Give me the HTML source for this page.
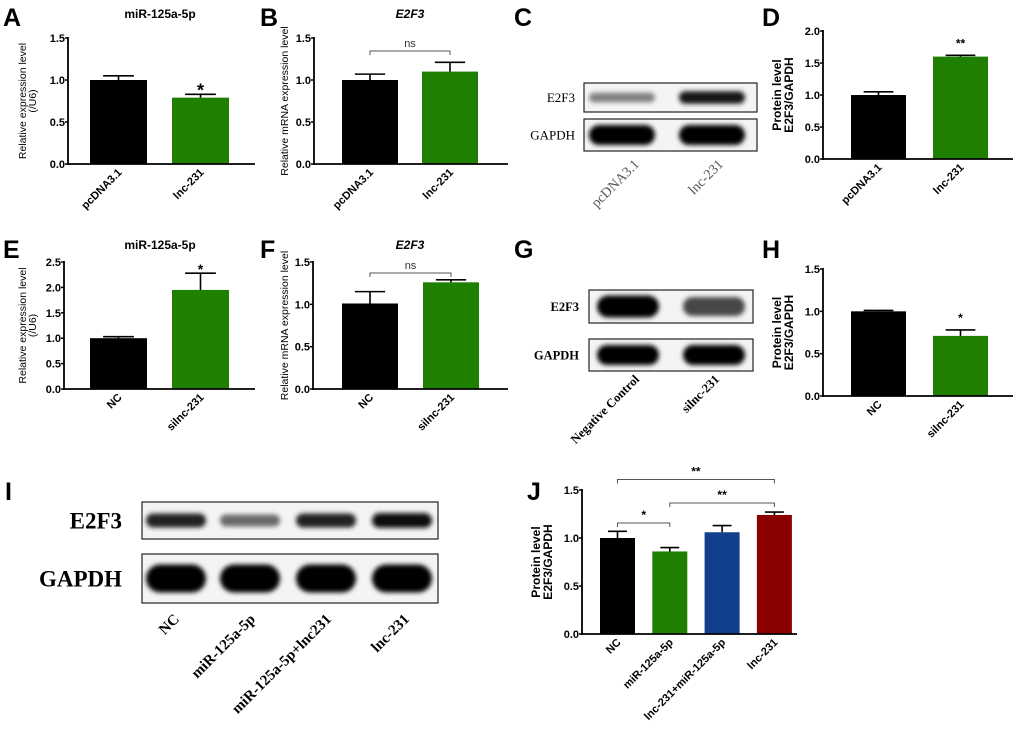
<!DOCTYPE html>
<html><head><meta charset="utf-8"><style>
html,body{margin:0;padding:0;background:#fff;}
svg{display:block;font-family:"Liberation Sans",Arial,sans-serif;}
.ser{font-family:"Liberation Serif","Times New Roman",serif;}
</style></head><body>
<svg id="fig" width="1020" height="731" viewBox="0 0 1020 731" xmlns="http://www.w3.org/2000/svg">
<defs>
<filter id="blur2" x="-30%" y="-80%" width="160%" height="260%"><feGaussianBlur stdDeviation="2.4"/></filter>
</defs>
<g id="letters" font-weight="bold" font-size="25">
<text x="3" y="26">A</text>
<text x="260" y="26">B</text>
<text x="514" y="26">C</text>
<text x="762" y="26">D</text>
<text x="3" y="258">E</text>
<text x="260" y="258">F</text>
<text x="514" y="258">G</text>
<text x="762" y="258">H</text>
<text x="5" y="500">I</text>
<text x="527" y="500">J</text>
</g>
<g id="blots"></g>
<g id="charts"></g>
</svg>
<script>
// ---- chart data ----
const aCats = ["pcDNA3.1", "lnc-231"];
const aVals = [1.0, 0.79];
const aErrs = [0.05, 0.04];
const aSig = ["", "*"];
const bCats = ["pcDNA3.1", "lnc-231"];
const bVals = [1.0, 1.1];
const bErrs = [0.07, 0.11];
const dCats = ["pcDNA3.1", "lnc-231"];
const dVals = [1.0, 1.6];
const dErrs = [0.05, 0.02];
const dSig = ["", "**"];
const eCats = ["NC", "silnc-231"];
const eVals = [1.0, 1.95];
const eErrs = [0.03, 0.33];
const eSig = ["", "*"];
const fCats = ["NC", "silnc-231"];
const fVals = [1.01, 1.26];
const fErrs = [0.14, 0.03];
const hCats = ["NC", "silnc-231"];
const hVals = [1.0, 0.71];
const hErrs = [0.01, 0.07];
const hSig = ["", "*"];
const jCats = ["NC", "miR-125a-5p", "lnc-231+miR-125a-5p", "lnc-231"];
const jVals = [1.0, 0.86, 1.06, 1.24];
const jErrs = [0.07, 0.04, 0.07, 0.03];
const yTicks15 = ["0.0", "0.5", "1.0", "1.5"];
const yTicks20 = ["0.0", "0.5", "1.0", "1.5", "2.0"];
const yTicks25 = ["0.0", "0.5", "1.0", "1.5", "2.0", "2.5"];

const NS = "http://www.w3.org/2000/svg";
function mk(tag, attrs, parent, txt) {
  const e = document.createElementNS(NS, tag);
  for (const k in attrs) e.setAttribute(k, attrs[k]);
  if (txt !== undefined) e.textContent = txt;
  parent.appendChild(e);
  return e;
}
const charts = document.getElementById("charts");

function chart(p) {
  const g = mk("g", {}, charts);
  
  
  const ymax = parseFloat(p.ticks[p.ticks.length - 1]);
  const y = v => p.y0 - (v / ymax) * (p.y0 - p.yTop);
  const bx = i => p.bandStart + i * p.step;
  const ya = mk("line", {x1: p.ax, y1: p.yTop - 1, x2: p.ax, y2: p.y0 + 1, stroke: "#000", "stroke-width": 1.8}, g);
  
  
  p.ticks.forEach((t) => {
    const v = parseFloat(t);
    const tl = mk("line", {x1: p.ax - 3, y1: y(v), x2: p.ax, y2: y(v), stroke: "#000", "stroke-width": 1.5}, g);
    
    
    const tt = mk("text", {x: p.ax - 3, y: y(v) + 4, "text-anchor": "end", "font-size": 11, "font-weight": "bold"}, g, t);
    
    
  });
  p.vals.forEach((v, i) => {
    const x = bx(i);
    const r = mk("rect", {x: x, y: y(v), width: p.bw, height: p.y0 - y(v), fill: p.colors[i]}, g);
    
    
    const cx = x + p.bw / 2, top = y(v + p.errs[i]);
    const cw = p.bw * 0.27;
    const eb = mk("path", {d: `M${cx},${y(v)}V${top}M${cx - cw},${top}H${cx + cw}`, stroke: "#000", "stroke-width": 1.6, fill: "none"}, g);
    
    
    if (p.sig && p.sig[i]) {
      const st = mk("text", {x: cx, y: top - p.sigGap, "text-anchor": "middle", "font-size": p.sigSize, "font-weight": "bold"}, g, p.sig[i]);
      
      
    }
    const lx = cx + 4, ly = p.y0 + 9;
    const lab = mk("text", {x: lx, y: ly, "text-anchor": "end", "font-size": p.labSize || 11, "font-weight": "bold", transform: `rotate(-45 ${lx} ${ly})`}, g, p.cats[i]);
    
    
  });
  const xa = mk("line", {x1: p.ax, y1: p.y0, x2: p.xEnd, y2: p.y0, stroke: "#000", "stroke-width": 1.8}, g);
  
  
  (p.brackets || []).forEach(b => {
    const x1 = bx(b[0]) + p.bw / 2, x2 = bx(b[1]) + p.bw / 2, yy = y(b[2]);
    const br = mk("path", {d: `M${x1},${yy + 4}V${yy}H${x2}V${yy + 4}`, stroke: "#555", "stroke-width": 1, fill: "none"}, g);
    
    
    const bt = mk("text", {x: (x1 + x2) / 2, y: yy - 4, "text-anchor": "middle", "font-size": b[3] === "ns" ? 11 : 12, "font-weight": b[3] === "ns" ? "normal" : "bold", fill: b[3] === "ns" ? "#333" : "#000"}, g, b[3]);
    
    
  });
  if (p.title) {
    const t = mk("text", {x: p.titleX, y: p.titleY, "text-anchor": "middle", "font-size": 12, "font-weight": "bold", "font-style": p.titleItalic ? "italic" : "normal"}, g, p.title);
    
    
  }
  const my = (p.y0 + p.yTop) / 2;
  p.yLabel.forEach((s, k) => {
    const lx = p.yLabelX + k * (p.yLabelBold ? 12 : 10);
    const t = mk("text", {x: lx, y: my, "text-anchor": "middle", "font-size": p.yLabelBold ? 12 : 10.5, "font-weight": p.yLabelBold ? "bold" : "normal", transform: `rotate(-90 ${lx} ${my})`}, g, s);
    
    
  });
}
const BG = ["#000", "#1f7f00"];
chart({name: "chart-a", ax: 68, y0: 164, yTop: 38, xEnd: 255, bandStart: 90, step: 82, bw: 57, cats: aCats, vals: aVals, errs: aErrs, sig: aSig, sigGap: -2, sigSize: 18, colors: BG, ticks: yTicks15, title: "miR-125a-5p", titleX: 160, titleY: 18, yLabel: ["Relative expression level", "(/U6)"], yLabelX: 26});
chart({name: "chart-b", ax: 314, y0: 164, yTop: 38, xEnd: 508, bandStart: 342, step: 80, bw: 56, cats: bCats, vals: bVals, errs: bErrs, colors: BG, ticks: yTicks15, brackets: [[0, 1, 1.345, "ns"]], title: "E2F3", titleItalic: true, titleX: 410, titleY: 18, yLabel: ["Relative mRNA expression level"], yLabelX: 288});
chart({name: "chart-d", ax: 823, y0: 159, yTop: 31, xEnd: 1013, bandStart: 851, step: 82, bw: 55, cats: dCats, vals: dVals, errs: dErrs, sig: dSig, sigGap: 8, sigSize: 12, colors: BG, ticks: yTicks20, yLabel: ["Protein level", "E2F3/GAPDH"], yLabelBold: true, yLabelX: 781});
chart({name: "chart-e", ax: 64, y0: 389, yTop: 262, xEnd: 255, bandStart: 90, step: 82, bw: 57, cats: eCats, vals: eVals, errs: eErrs, sig: eSig, sigGap: -1, sigSize: 14, colors: BG, ticks: yTicks25, title: "miR-125a-5p", titleX: 160, titleY: 249, yLabel: ["Relative expression level", "(/U6)"], yLabelX: 26});
chart({name: "chart-f", ax: 313, y0: 389, yTop: 262, xEnd: 508, bandStart: 342, step: 81, bw: 56, cats: fCats, vals: fVals, errs: fErrs, colors: BG, ticks: yTicks15, brackets: [[0, 1, 1.37, "ns"]], title: "E2F3", titleItalic: true, titleX: 410, titleY: 249, yLabel: ["Relative mRNA expression level"], yLabelX: 288});
chart({name: "chart-h", ax: 823, y0: 396, yTop: 269, xEnd: 1013, bandStart: 851, step: 82, bw: 55, cats: hCats, vals: hVals, errs: hErrs, sig: hSig, sigGap: 8, sigSize: 12, colors: BG, ticks: yTicks15, yLabel: ["Protein level", "E2F3/GAPDH"], yLabelBold: true, yLabelX: 781});
chart({name: "chart-j", ax: 582, y0: 634, yTop: 490, xEnd: 797, bandStart: 600, step: 52.3, bw: 35, cats: jCats, vals: jVals, errs: jErrs, colors: ["#000", "#1f7f00", "#123f8c", "#8b0000"], ticks: yTicks15, brackets: [[0, 3, 1.61, "**"], [1, 3, 1.365, "**"], [0, 1, 1.156, "*"]], yLabel: ["Protein level", "E2F3/GAPDH"], yLabelBold: true, yLabelX: 540, labSize: 11});

// ---- western blots ----
const blots = document.getElementById("blots");
const cE2F3 = [0.45, 0.9];
const cGAPDH = [1, 1];
const gE2F3 = [1, 0.7];
const gGAPDH = [1, 1];
const iE2F3 = [0.85, 0.55, 0.85, 0.95];
const iGAPDH = [1, 1, 1, 1];
function blot(p) {
  const g = mk("g", {}, blots);
  
  
  p.rows.forEach((r, ri) => {
    const clipId = p.name + "-clip" + ri;
    const cp = mk("clipPath", {id: clipId}, g);
    mk("rect", {x: p.x, y: r.y, width: p.w, height: r.h}, cp);
    mk("rect", {x: p.x, y: r.y, width: p.w, height: r.h, fill: "#f4f4f4"}, g);
    const bands = mk("g", {"clip-path": `url(#${clipId})`}, g);
    r.vals.forEach((v, i) => {
      const cx = p.laneX[i], cy = r.y + r.h / 2;
      const bh = r.bandH * (0.55 + 0.45 * v);
      const shade = Math.round(235 * (1 - v));
      const b = mk("rect", {x: cx - p.laneW / 2, y: cy - bh / 2, width: p.laneW, height: bh, rx: bh / 2, fill: `rgb(${shade},${shade},${shade})`, filter: "url(#blur2)"}, bands);
      
      
    });
    const box = mk("rect", {x: p.x, y: r.y, width: p.w, height: r.h, fill: "none", stroke: "#222", "stroke-width": 1.2}, g);
    
    
    const t = mk("text", {x: p.x - p.labGap, y: r.y + r.h / 2 + p.labSize * 0.35, "text-anchor": "end", "font-size": p.labSize, "font-weight": p.labBold ? "bold" : "normal", class: "ser"}, g, r.label);
    
    
  });
  p.lanes.forEach((s, i) => {
    const lx = p.laneLabX[i], ly = p.laneLabY;
    const t = mk("text", {x: lx, y: ly, "text-anchor": "end", "font-size": p.laneSize, "font-weight": p.laneBold ? "bold" : "normal", fill: p.laneColor || "#000", class: "ser", transform: `rotate(-45 ${lx} ${ly})`}, g, s);
    
    
  });
}
blot({name: "blot-c", x: 584, w: 173, laneX: [622, 712], laneW: 66, labGap: 9, labSize: 13, rows: [{label: "E2F3", y: 83, h: 29, bandH: 13, vals: cE2F3}, {label: "GAPDH", y: 119, h: 32, bandH: 20, vals: cGAPDH}], lanes: ["pcDNA3.1", "lnc-231"], laneLabX: [640, 724], laneLabY: 165, laneSize: 14, laneColor: "#555"});
blot({name: "blot-g", x: 589, w: 164, laneX: [628, 714], laneW: 62, labGap: 10, labSize: 12.5, labBold: true, rows: [{label: "E2F3", y: 290, h: 33, bandH: 22, vals: gE2F3}, {label: "GAPDH", y: 339, h: 32, bandH: 20, vals: gGAPDH}], lanes: ["Negative Control", "silnc-231"], laneLabX: [640, 720], laneLabY: 380, laneSize: 12.5, laneBold: true});
blot({name: "blot-i", x: 142, w: 296, laneX: [176, 250, 326, 402], laneW: 60, labGap: 20, labSize: 23, labBold: true, rows: [{label: "E2F3", y: 502, h: 37, bandH: 15, vals: iE2F3}, {label: "GAPDH", y: 554, h: 49, bandH: 28, vals: iGAPDH}], lanes: ["NC", "miR-125a-5p", "miR-125a-5p+lnc231", "lnc-231"], laneLabX: [180, 256, 332, 410], laneLabY: 620, laneSize: 15, laneBold: true});
</script>
</body></html>
